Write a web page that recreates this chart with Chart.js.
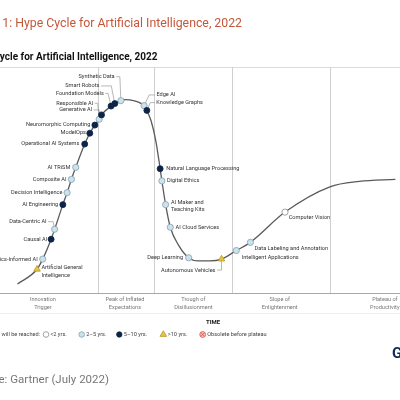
<!DOCTYPE html>
<html><head><meta charset="utf-8">
<script src="https://cdn.jsdelivr.net/npm/chart.js@4/dist/chart.umd.min.js"></script>
<style>html,body{margin:0;padding:0;background:#fff;overflow:hidden}canvas{display:block}</style>
</head><body><canvas id="c" width="400" height="400"></canvas>
<script>
// ---- data (x = time, 0-100; y = expectations, 0-100) ----
const curveX = [3.3, 8.3, 9.75, 11.9, 12.8, 14.9, 16.0, 17.1, 18.2, 20.5, 21.8, 23.1, 24.2, 24.8, 27.25, 28.2, 29.75, 31.0, 33.25, 35.0, 36.0, 36.4, 37.5, 38.75, 39.8, 40.25, 41.2, 42.4, 44.5, 47.1, 49.5, 52.5, 55.5, 59.3, 62.9, 71.75, 83.25, 90.75, 100];
const curveY = [4.0, 10.5, 15.0, 23.8, 28.2, 39.1, 44.4, 50.3, 55.6, 65.9, 70.7, 74.3, 76.9, 78.8, 82.7, 83.8, 85.1, 85.6, 85.0, 83.8, 82.3, 80.8, 76.1, 66.8, 55.0, 49.6, 39.1, 29.1, 21.2, 15.6, 14.2, 14.2, 15.0, 18.8, 22.4, 35.8, 47.0, 49.4, 50.3];

const techNames = ["Artificial General\nIntelligence", "Physics-Informed AI", "Causal AI", "Data-Centric AI", "AI Engineering", "Decision Intelligence", "Composite AI", "AI TRiSM", "Operational AI Systems", "ModelOps", "Neuromorphic Computing", "Responsible AI", "Generative AI", "Foundation Models", "Smart Robots", "Synthetic Data", "Edge AI", "Knowledge Graphs", "Natural Language Processing", "Digital Ethics", "AI Maker and\nTeaching Kits", "AI Cloud Services", "Deep Learning", "Autonomous Vehicles", "Intelligent Applications", "Data Labeling and Annotation", "Computer Vision"];
const techX = [8.3, 9.75, 11.9, 12.8, 14.9, 16.0, 17.1, 18.2, 20.5, 21.8, 23.1, 24.2, 24.8, 27.25, 28.2, 29.75, 35.7, 36.4, 39.8, 40.25, 41.2, 42.4, 47.1, 55.5, 59.3, 62.9, 71.75];
const techY = [10.5, 15.0, 23.8, 28.2, 39.1, 44.4, 50.3, 55.6, 65.9, 70.7, 74.3, 76.9, 78.8, 82.7, 83.8, 85.1, 82.9, 80.8, 55.0, 49.6, 39.1, 29.1, 15.6, 15.0, 18.8, 22.4, 35.8];
const techCat = ["gt10", "2to5", "5to10", "2to5", "5to10", "2to5", "2to5", "2to5", "5to10", "5to10", "5to10", "2to5", "5to10", "5to10", "5to10", "2to5", "2to5", "5to10", "5to10", "2to5", "2to5", "2to5", "2to5", "gt10", "2to5", "2to5", "lt2"];

const phaseNames = [["Innovation", "Trigger"], ["Peak of Inflated", "Expectations"], ["Trough of", "Disillusionment"], ["Slope of", "Enlightenment"], ["Plateau of", "Productivity"]];
const phaseCenters = [9.8, 30.8, 48.3, 70.4, 97.3];
const phaseBounds = [24.0, 38.2, 58.3, 83.2];

const legendLabels = ["<2 yrs.", "2\u20135 yrs.", "5\u201310 yrs.", ">10 yrs.", "Obsolete before plateau"];

// ---- layout / styling (not data) ----
const catStyle = {
  lt2:   {bg: "#ffffff", bd: "#8c8c8c", style: "circle", r: 3.1},
  "2to5":{bg: "#cfe1e9", bd: "#7fa3b3", style: "circle", r: 3.1},
  "5to10":{bg: "#0c2447", bd: "#0c2447", style: "circle", r: 3.0},
  gt10:  {bg: "#e6c43f", bd: "#b89a2c", style: "triangle", r: 3.8}
};
// [dx, dy, align, leaderElbowDx]
const labelLayout = [
  [4.4, -1.6, "left", null], [-5, 0, "right", null], [-4, 0, "right", null], [-8, -7.6, "right", -1.5],
  [-4.7, 0, "right", null], [-4.7, 0, "right", null], [-5, 0, "right", null], [-5.4, 0, "right", null],
  [-5.3, 0, "right", null], [-3.8, -0.6, "right", null], [-4.6, 0, "right", null], [-6, -16, "right", -1.5],
  [-9.3, -5, "right", -2.5], [-7.3, -12.7, "right", -3], [-15.4, -17.7, "right", -3.5], [-6.3, -24, "right", -1],
  [12.3, -10.7, "left", 5], [9.5, -7.8, "left", 3.5], [6, 0, "left", null], [5, 0, "left", null],
  [5.3, -2.4, "left", null], [5.3, 0, "left", null], [-5.6, 0, "right", null], [-6, 11, "right", 0],
  [5.4, 6.8, "left", null], [4.2, 6.2, "left", null], [3.7, 5.3, "left", null]
];
const LABEL_FONT = "5.6px Roboto";

function catDataset(cat) {
  const s = catStyle[cat];
  const pts = [];
  techCat.forEach((c, i) => { if (c === cat) pts.push({x: techX[i], y: techY[i]}); });
  return {type: "scatter", data: pts, pointStyle: s.style, pointRadius: s.r, pointHoverRadius: s.r,
    backgroundColor: s.bg, borderColor: s.bd, pointBorderWidth: 0.8, borderWidth: 0.8, clip: false, order: 0};
}

function drawMarker(ctx, cat, x, y) {
  const s = catStyle[cat];
  ctx.save();
  ctx.fillStyle = s.bg; ctx.strokeStyle = s.bd; ctx.lineWidth = 0.8;
  ctx.beginPath();
  if (s.style === "triangle") {
    const r = s.r;
    ctx.moveTo(x, y - r); ctx.lineTo(x + r * 0.87, y + r * 0.5); ctx.lineTo(x - r * 0.87, y + r * 0.5); ctx.closePath();
  } else ctx.arc(x, y, s.r - 0.3, 0, Math.PI * 2);
  ctx.fill(); ctx.stroke();
  ctx.restore();
}

const decor = {
  id: "decor",
  beforeDatasetsDraw(chart) {
    const {ctx, chartArea: a, scales: {x, y}} = chart;
    ctx.save();
    ctx.strokeStyle = "#dcdcdc"; ctx.lineWidth = 1;
    ctx.beginPath(); ctx.moveTo(0, a.top + 0.5); ctx.lineTo(400, a.top + 0.5); ctx.stroke();
    ctx.strokeStyle = "#cfcfcf";
    phaseBounds.forEach(b => {
      const px = Math.round(x.getPixelForValue(b)) + 0.5;
      ctx.beginPath(); ctx.moveTo(px, a.top); ctx.lineTo(px, a.bottom); ctx.stroke();
    });
    ctx.strokeStyle = "#a8a8a8";
    ctx.beginPath(); ctx.moveTo(0, a.bottom + 0.5); ctx.lineTo(400, a.bottom + 0.5); ctx.stroke();
    ctx.strokeStyle = "#eeeeee";
    ctx.beginPath(); ctx.moveTo(0, a.bottom + 20.5); ctx.lineTo(400, a.bottom + 20.5); ctx.stroke();
    ctx.strokeStyle = "#888"; ctx.lineWidth = 0.6;
    techNames.forEach((n, i) => {
      const L = labelLayout[i];
      if (L[3] === null) return;
      const mx = x.getPixelForValue(techX[i]), my = y.getPixelForValue(techY[i]);
      const tx = mx + L[0], ty = my + L[1];
      const edge = L[2] === "right" ? tx + 1.5 : tx - 1.5;
      ctx.beginPath(); ctx.moveTo(edge, ty); ctx.lineTo(mx + L[3], ty); ctx.lineTo(mx, my); ctx.stroke();
    });
    ctx.restore();
  },
  afterDatasetsDraw(chart) {
    const {ctx, chartArea: a, scales: {x, y}} = chart;
    ctx.save();
    ctx.textBaseline = "middle";
    ctx.font = LABEL_FONT; ctx.fillStyle = "#333";
    techNames.forEach((n, i) => {
      const L = labelLayout[i];
      const mx = x.getPixelForValue(techX[i]), my = y.getPixelForValue(techY[i]);
      ctx.textAlign = L[2];
      n.split("\n").forEach((s, k) => ctx.fillText(s, mx + L[0], my + L[1] + k * 7.5));
    });
    ctx.fillStyle = "#777"; ctx.textAlign = "center";
    phaseNames.forEach((p, i) => {
      const px = x.getPixelForValue(phaseCenters[i]);
      ctx.fillText(p[0], px, a.bottom + 7);
      ctx.fillText(p[1], px, a.bottom + 14.4);
    });
    ctx.font = "bold 6px Roboto"; ctx.fillStyle = "#222";
    ctx.fillText("TIME", (a.left + a.right) / 2 + 13, a.bottom + 29);
    const ly = a.bottom + 41.5;
    ctx.font = LABEL_FONT; ctx.fillStyle = "#444"; ctx.textAlign = "right";
    ctx.fillText("Plateau will be reached:", 40, ly);
    ctx.textAlign = "left";
    const lx = [46, 81.7, 119.3, 163.3, 202.7];
    ["lt2", "2to5", "5to10", "gt10"].forEach((c, i) => { drawMarker(ctx, c, lx[i], ly); });
    ctx.fillStyle = "#f6c9c4"; ctx.strokeStyle = "#d9473a"; ctx.lineWidth = 0.8;
    ctx.beginPath(); ctx.arc(lx[4], ly, 2.9, 0, Math.PI * 2); ctx.fill(); ctx.stroke();
    ctx.beginPath(); ctx.moveTo(lx[4] - 1.5, ly - 1.5); ctx.lineTo(lx[4] + 1.5, ly + 1.5);
    ctx.moveTo(lx[4] + 1.5, ly - 1.5); ctx.lineTo(lx[4] - 1.5, ly + 1.5); ctx.stroke();
    ctx.fillStyle = "#444";
    legendLabels.forEach((t, i) => ctx.fillText(t, lx[i] + 4.5, ly));
    ctx.textBaseline = "alphabetic";
    ctx.textAlign = "right";
    ctx.font = "12.3px Roboto"; ctx.fillStyle = "#c4573a";
    ctx.fillText("Figure 1: Hype Cycle for Artificial Intelligence, 2022", 242, 26.5);
    ctx.font = "bold 10px Roboto"; ctx.fillStyle = "#111";
    ctx.fillText("Hype Cycle for Artificial Intelligence, 2022", 157.5, 60);
    ctx.font = "11.5px Roboto"; ctx.fillStyle = "#777";
    ctx.fillText("Source: Gartner (July 2022)", 109, 383);
    ctx.textAlign = "left";
    ctx.font = "bold 15px Roboto"; ctx.fillStyle = "#0a2a5c";
    ctx.fillText("G", 392, 358);
    ctx.restore();
  }
};

new Chart(document.getElementById("c"), {
  type: "scatter",
  data: {
    datasets: [
      {type: "line", data: curveX.map((v, i) => ({x: v, y: curveY[i]})), borderColor: "#5a5a5a", borderWidth: 1.3,
        pointRadius: 0, cubicInterpolationMode: "monotone", fill: false, clip: false, order: 1},
      catDataset("5to10"), catDataset("2to5"), catDataset("lt2"), catDataset("gt10")
    ]
  },
  options: {
    responsive: false, animation: false, devicePixelRatio: 1,
    layout: {padding: {top: 67, bottom: 107, left: 0, right: 0}},
    plugins: {legend: {display: false}, tooltip: {enabled: false}},
    events: [],
    scales: {
      x: {type: "linear", min: 0, max: 100, display: false},
      y: {type: "linear", min: 0, max: 100, display: false}
    }
  },
  plugins: [decor]
});
</script>
</body></html>
